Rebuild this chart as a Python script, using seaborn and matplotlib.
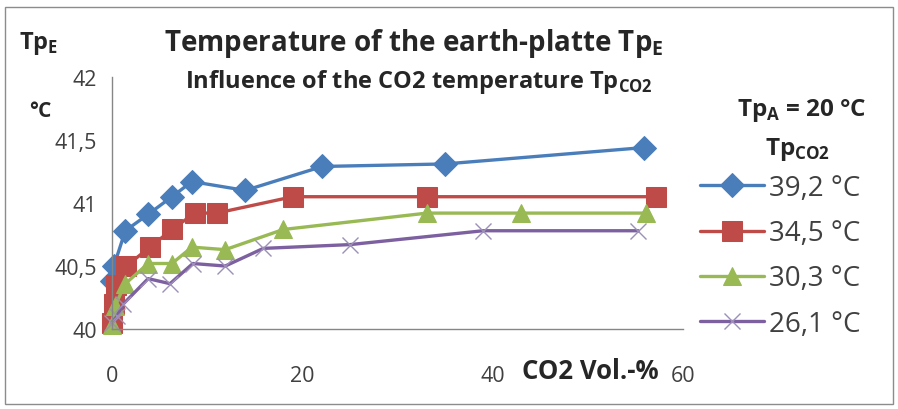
import matplotlib
matplotlib.use("Agg")
import matplotlib.pyplot as plt
import seaborn as sns
from matplotlib.patches import Rectangle

# Data (CO2 Vol.-% vs. Tp_E in °C)
x_392 = [0, 0.2, 1.4, 3.8, 6.3, 8.4, 14.0, 22.1, 35.0, 55.9]
y_392 = [40.38, 40.50, 40.78, 40.91, 41.05, 41.17, 41.10, 41.29, 41.31, 41.44]

x_345 = [0, 0.2, 0.4, 1.5, 4.0, 6.3, 8.7, 11.0, 19.0, 33.1, 57.2]
y_345 = [40.05, 40.20, 40.35, 40.50, 40.65, 40.79, 40.92, 40.92, 41.05, 41.05, 41.05]

x_303 = [0, 0.3, 1.4, 3.8, 6.3, 8.4, 11.9, 18.0, 33.1, 43.0, 56.1]
y_303 = [40.03, 40.18, 40.36, 40.52, 40.52, 40.65, 40.63, 40.79, 40.92, 40.92, 40.92]

x_261 = [0, 0.5, 1.2, 3.8, 6.1, 8.5, 11.9, 15.9, 25.0, 39.0, 55.3]
y_261 = [40.05, 40.10, 40.20, 40.40, 40.36, 40.52, 40.50, 40.64, 40.67, 40.78, 40.78]

labels = ["39,2 °C", "34,5 °C", "30,3 °C", "26,1 °C"]
x_ticks = [0, 20, 40, 60]
y_ticks = [40, 40.5, 41, 41.5, 42]
y_ticklabels = ["40", "40,5", "41", "41,5", "42"]

sns.set_style("white")
plt.rcParams["font.family"] = ["Open Sans", "DejaVu Sans"]
plt.rcParams["mathtext.fontset"] = "custom"
plt.rcParams["mathtext.bf"] = "Open Sans:bold"
plt.rcParams["mathtext.rm"] = "Open Sans"

fig = plt.figure(figsize=(8.98, 4.10), dpi=100)
ax = fig.add_axes([0.1247, 0.195, 0.6359, 0.6148])

series = [
    (x_392, y_392, "#4A7EBB", "D", 12),
    (x_345, y_345, "#BE4B48", "s", 15),
    (x_303, y_303, "#98B954", "^", 13),
    (x_261, y_261, "#7D60A0", "x", 12),
]
for (xs, ys, col, mk, ms), lab in zip(series, labels):
    kw = dict(markeredgecolor=col, markerfacecolor=col)
    if mk == "x":
        kw = dict(markeredgecolor="#9C8FB8", markeredgewidth=1.0)
    sns.lineplot(x=xs, y=ys, ax=ax, color=col, marker=mk, markersize=ms,
                 linewidth=2.4, label=lab, clip_on=False, sort=False, **kw)

ax.set_xlim(0, 60)
ax.set_ylim(40, 42)
ax.set_xticks(x_ticks)
ax.set_yticks(y_ticks)
ax.set_yticklabels(y_ticklabels)
ax.tick_params(axis="both", labelsize=15.5, colors="#404040", direction="out",
               length=6, width=1, color="#868686")
ax.tick_params(axis="x", pad=20)
ax.tick_params(axis="y", pad=5)
for s in ["top", "right"]:
    ax.spines[s].set_visible(False)
for s in ["left", "bottom"]:
    ax.spines[s].set_color("#868686")
    ax.spines[s].set_linewidth(1)
ax.set_xlabel("")
ax.set_ylabel("")

leg = ax.legend(loc="upper left", bbox_to_anchor=(700 / 898, 1 - 175 / 410),
                bbox_transform=fig.transFigure, frameon=False, fontsize=20,
                handlelength=2.3, handletextpad=0.2, labelspacing=0.62,
                borderpad=0, borderaxespad=0)
for t in leg.get_texts():
    t.set_color("#404040")

# Texts
fig.text(0.021, 0.893, r"Tp$_\mathbf{E}$", fontsize=17, fontweight="bold", va="center")
fig.text(0.032, 0.729, "°C", fontsize=15, fontweight="bold", va="center")
fig.text(0.183, 0.895, r"Temperature of the earth-platte Tp$_\mathbf{E}$",
         fontsize=20, fontweight="bold", va="center")
fig.text(0.206, 0.80, r"Influence of the CO2 temperature Tp$_\mathbf{CO2}$",
         fontsize=17, fontweight="bold", va="center")
fig.text(0.965, 0.73, r"Tp$_\mathbf{A}$ = 20 °C", fontsize=17.5,
         fontweight="bold", va="center", ha="right")
fig.text(0.888, 0.635, r"Tp$_\mathbf{CO2}$", fontsize=17.5,
         fontweight="bold", va="center", ha="center")
fig.text(0.657, 0.093, "CO2 Vol.-%", fontsize=18.5, fontweight="bold",
         va="center", ha="center")

fig.patches.append(Rectangle((0.006, 0.012), 0.988, 0.968, transform=fig.transFigure,
                             fill=False, edgecolor="#8C8C8C", linewidth=1))

fig.savefig("out.png", dpi=100, facecolor="white")
